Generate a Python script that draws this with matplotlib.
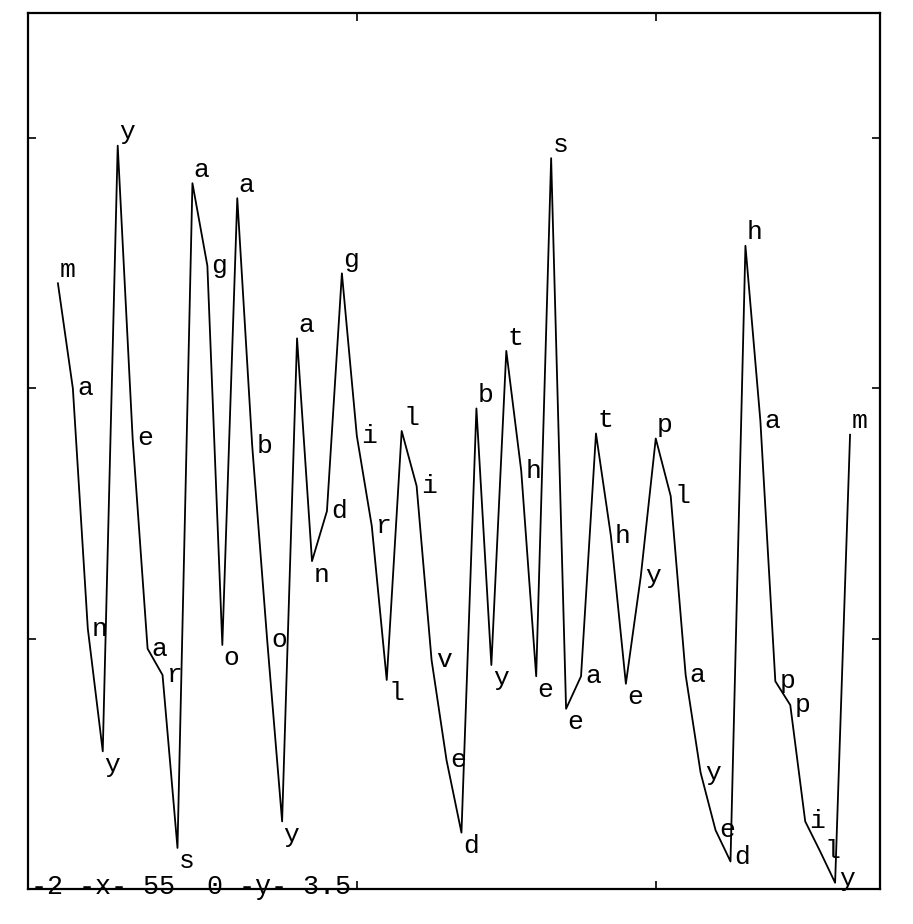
import numpy as np
import matplotlib
matplotlib.use("Agg")
import matplotlib.pyplot as plt

# letras de cada ponto e valores
letras = list("manyyearsagoaboyandgirllivedbytheseatheyplayedhappily") + ["m"]
valores = [2.42, 2.00, 1.04, 0.55, 2.97, 1.80, 0.96, 0.855, 0.164, 2.82,
           2.49, 0.975, 2.76, 1.77, 0.995, 0.27, 2.20, 1.31, 1.51, 2.46,
           1.81, 1.45, 0.835, 1.83, 1.61, 0.915, 0.515, 0.225, 1.92, 0.895,
           2.15, 1.67, 0.85, 2.92, 0.72, 0.85, 1.82, 1.41, 0.82, 1.25,
           1.80, 1.57, 0.855, 0.465, 0.235, 0.11, 2.57, 1.87, 0.83, 0.735,
           0.27, 0.15, 0.025, 1.815]
xlim = (-2, 55)
ylim = (0, 3.5)
xticks = [20, 40]
yticks = [1, 2, 3]
rotulo = "-2 -x- 55  0 -y- 3.5"

fonte = "Liberation Mono"

fig = plt.figure(figsize=(9.13, 9.24), dpi=100)
ax = fig.add_axes([0.0307, 0.0379, 0.9331, 0.948])

x = np.arange(len(valores))
ax.plot(x, valores, color="black", lw=1.3)

# coloca a letra em cada ponto: em cima nos picos, em baixo nos vales
n = len(valores)
for i, (xi, yi) in enumerate(zip(x, valores)):
    ant = valores[i - 1] if i > 0 else -1
    prox = valores[i + 1] if i < n - 1 else -1
    if yi > ant and yi > prox:
        off, va = (1, 1), "bottom"
    elif yi < ant and (i == n - 1 or yi < prox):
        if yi < 0.12:
            # perto do fundo: a letra fica ao lado
            off, va = (3, 3), "center"
        else:
            off, va = (1, -1), "top"
    else:
        off, va = (3, 0), "center"
    ax.annotate(letras[i], (xi, yi), xytext=off, textcoords="offset points",
                ha="left", va=va, fontsize=19, family=fonte, color="black")

ax.set_xlim(*xlim)
ax.set_ylim(*ylim)
ax.set_xticks(xticks)
ax.set_yticks(yticks)
ax.tick_params(direction="in", length=6, width=1.2, top=True, right=True,
               labelbottom=False, labelleft=False)
for s in ax.spines.values():
    s.set_linewidth(1.6)

ax.text(0.004, 0.002, rotulo, transform=ax.transAxes, ha="left", va="center",
        fontsize=19.3, family=fonte, color="black")

fig.savefig("out.png", dpi=100)
